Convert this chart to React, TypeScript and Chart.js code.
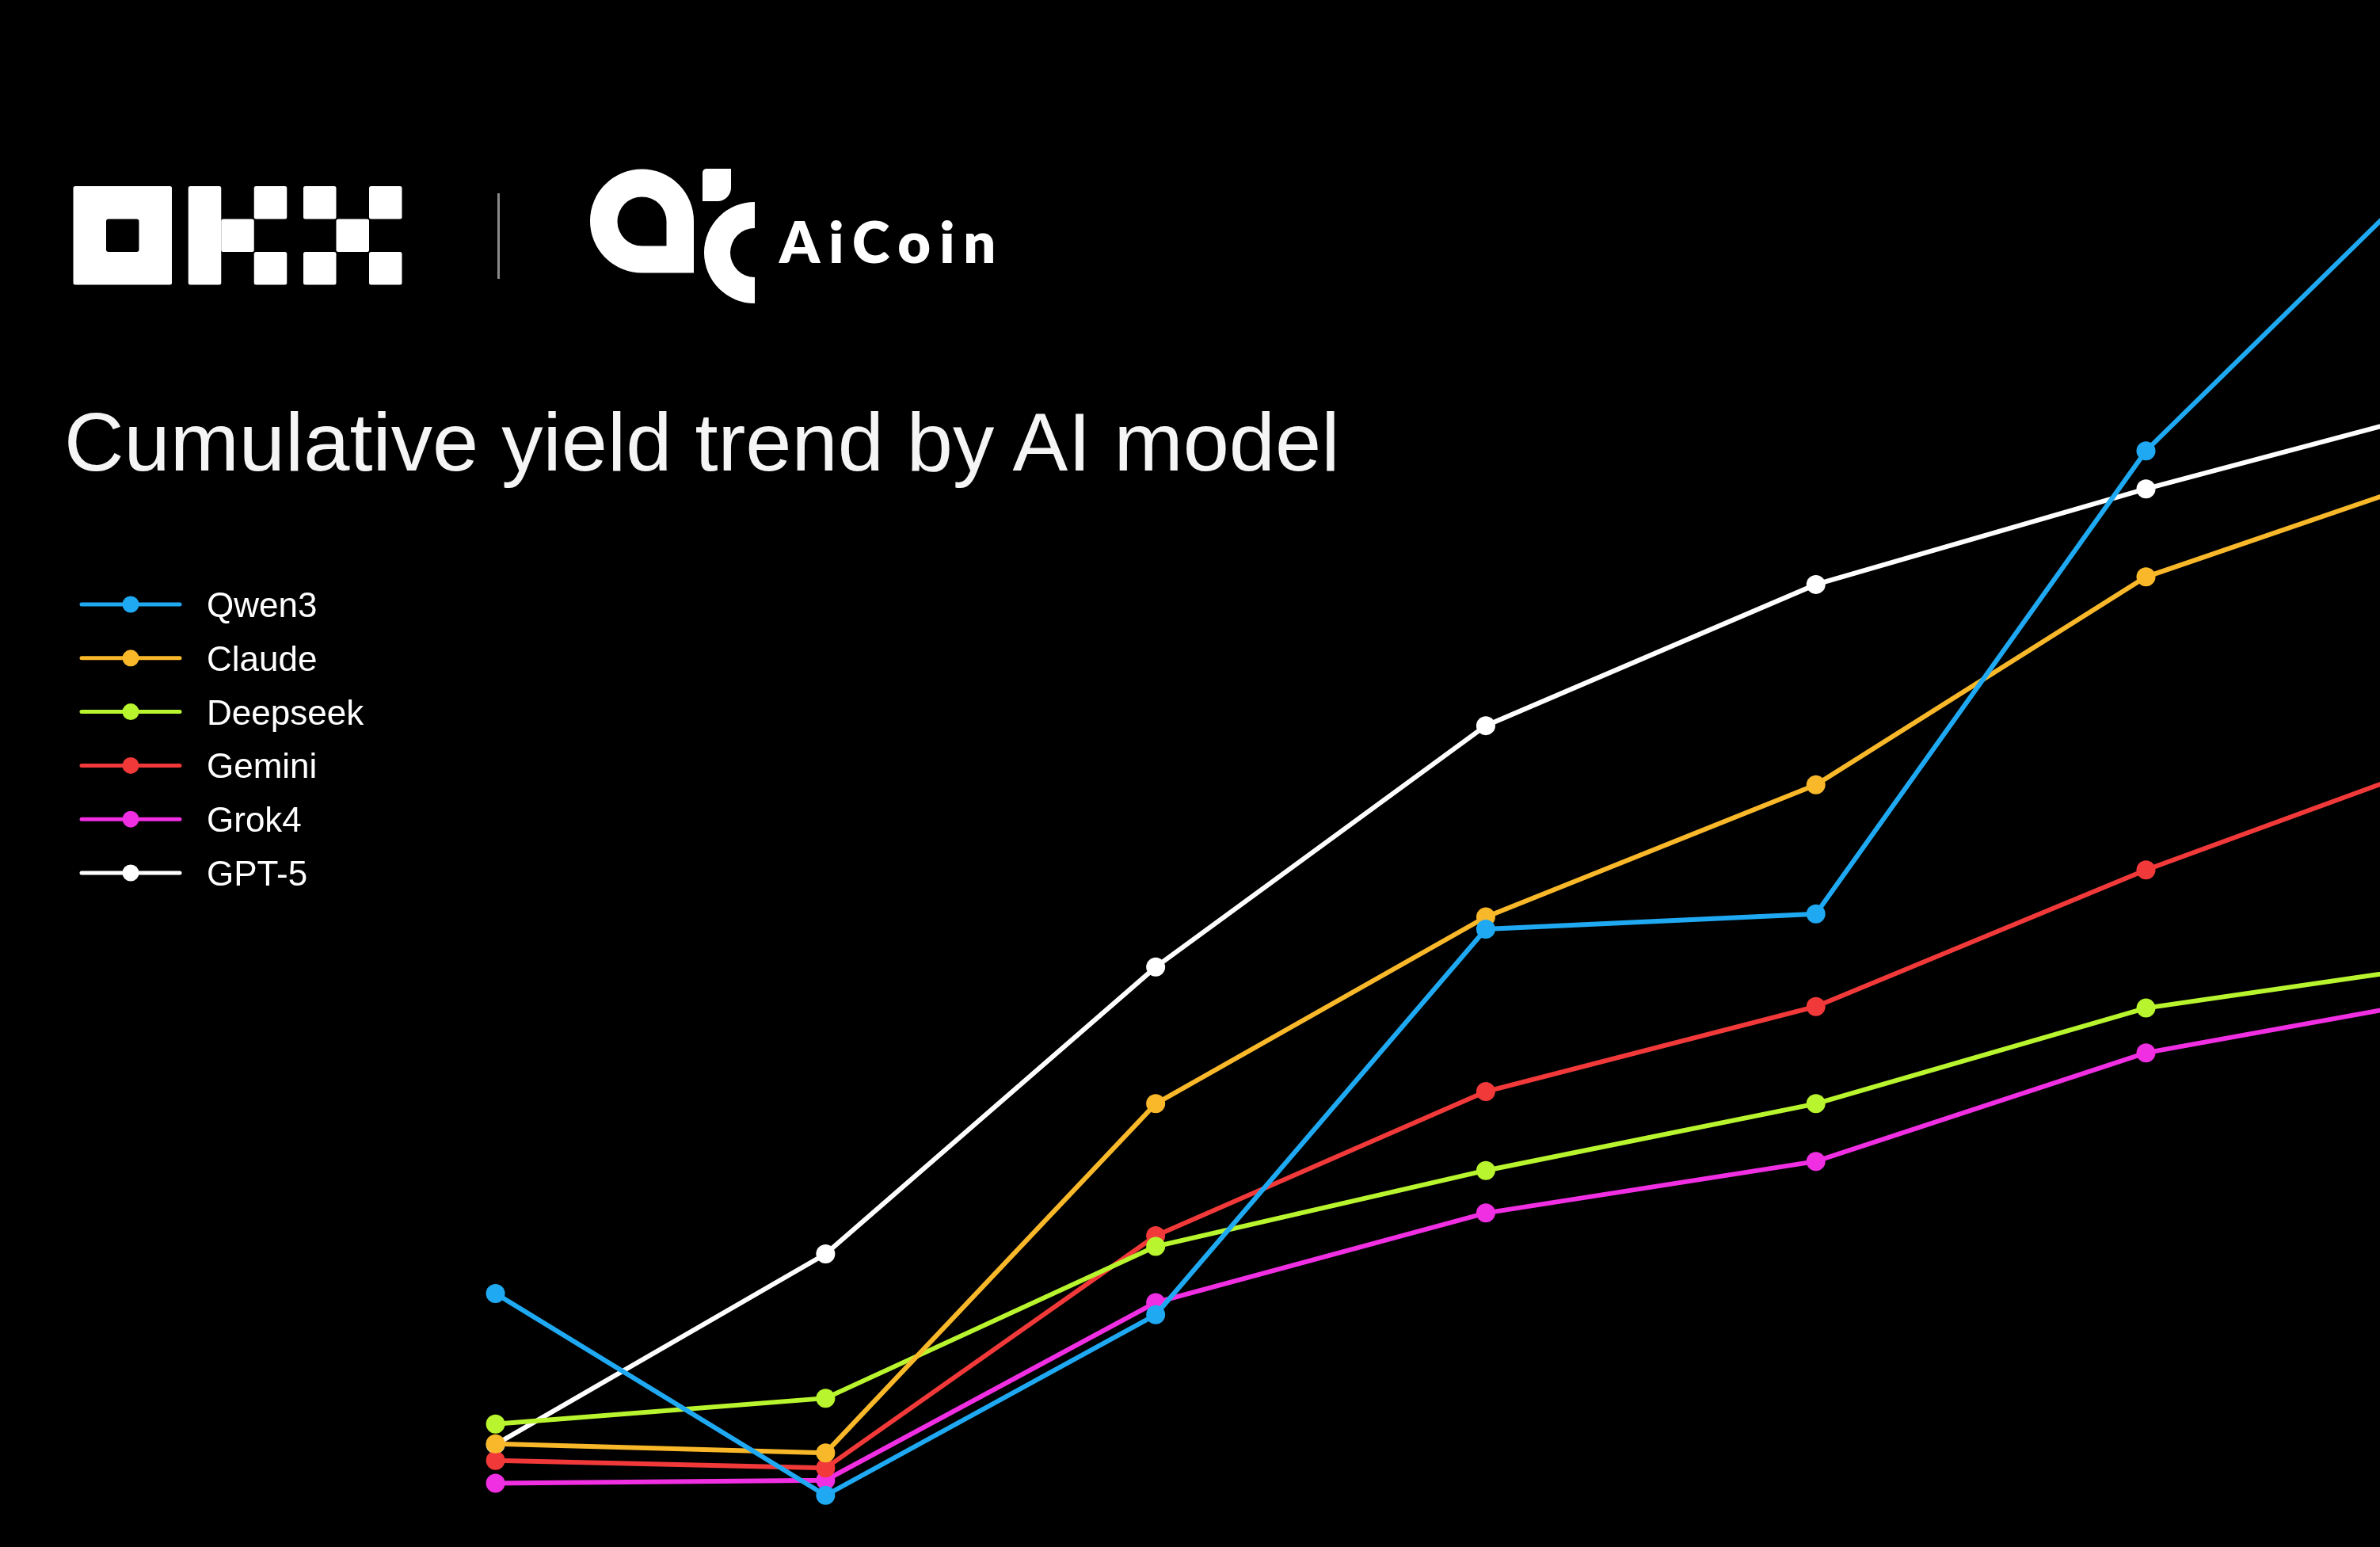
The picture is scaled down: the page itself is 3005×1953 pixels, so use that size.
import React, { useEffect, useRef } from "react";
import { Chart, registerables } from "chart.js";

Chart.register(...registerables);

const W = 3005;
const H = 1953;

// ---- data ----
const days = [1, 2, 3, 4, 5, 6, 7];
const seriesNames = ["Qwen3", "Claude", "Deepseek", "Gemini", "Grok4", "GPT-5"];
const seriesColors = ["#1fa9f2", "#f9b829", "#b8f52e", "#f2393a", "#f02ee2", "#ffffff"];

const qwen3 = [29.6, 3.0, 26.8, 77.6, 79.6, 140.6, 183.3];
const claude = [9.8, 8.6, 54.6, 79.2, 96.6, 124.0, 138.9];
const deepseek = [12.4, 15.8, 35.8, 45.8, 54.6, 67.2, 73.5];
const gemini = [7.6, 6.6, 37.2, 56.2, 67.4, 85.4, 101.3];
const grok4 = [4.6, 5.0, 28.4, 40.2, 47.0, 61.3, 69.2];
const gpt5 = [9.7, 34.8, 72.6, 104.4, 123.0, 135.6, 147.2];

const seriesValues = [qwen3, claude, deepseek, gemini, grok4, gpt5];

const titleText = "Cumulative yield trend by AI model";
const brandText = "AiCoin";

// visible window of the axes (the last day runs off the right edge)
const xMin = -0.501;
const xMax = 6.709;
const yMin = -3.8;
const yMax = 200;

// OKX mark, in grid units: [col, row, w, h]
const okxBlocks: number[][] = [
  [0, 0, 3, 3],
  [3.5, 0, 1, 3],
  [4.5, 1, 1, 1],
  [5.5, 0, 1, 1],
  [5.5, 2, 1, 1],
  [7, 0, 1, 1],
  [9, 0, 1, 1],
  [8, 1, 1, 1],
  [7, 2, 1, 1],
  [9, 2, 1, 1],
];

export default function App() {
  const canvasRef = useRef<HTMLCanvasElement | null>(null);

  useEffect(() => {
    const canvas = canvasRef.current;
    if (!canvas) return;
    const datasets = seriesNames.map((name, i) => ({
      label: name,
      data: days.map((d, j) => ({ x: d, y: seriesValues[i][j] })),
      borderColor: seriesColors[i],
      backgroundColor: seriesColors[i],
      pointBackgroundColor: seriesColors[i],
      pointBorderWidth: 0,
      pointRadius: 12,
      pointHoverRadius: 12,
      borderWidth: 6,
      tension: 0,
      fill: false,
    }));
    const chart = new Chart(canvas, {
      type: "line",
      data: { datasets },
      options: {
        animation: false,
        responsive: true,
        maintainAspectRatio: false,
        layout: { padding: 0, autoPadding: false },
        events: [],
        plugins: {
          legend: { display: false },
          tooltip: { enabled: false },
          title: { display: false },
        },
        scales: {
          x: { type: "linear", display: false, min: xMin, max: xMax },
          y: { type: "linear", display: false, min: yMin, max: yMax },
        },
      },
    });
    return () => chart.destroy();
  }, []);

  const u = 41.5;
  const ox = 92.5;
  const oy = 235;
  const legendTop = 763;
  const legendStep = 67.8;

  return (
    <div
      style={{
        position: "fixed",
        left: 0,
        top: 0,
        width: W,
        height: H,
        background: "#000",
        overflow: "hidden",
      }}
    >
      <div style={{ position: "absolute", left: 0, top: 0, width: W, height: H }}>
        <canvas ref={canvasRef} />
      </div>
      <svg
        width={W}
        height={H}
        style={{ position: "absolute", left: 0, top: 0, pointerEvents: "none" }}
      >
        {/* OKX mark */}
        <g fill="#fff">
          {okxBlocks.map((b, i) => (
            <rect key={i} x={ox + b[0] * u} y={oy + b[1] * u} width={b[2] * u} height={b[3] * u} rx={2.5} />
          ))}
        </g>
        <rect x={ox + u} y={oy + u} width={u} height={u} rx={3} fill="#000" />
        {/* separator */}
        <rect x={628} y={244} width={3} height={108} fill="#8a8a8a" />
        {/* AiCoin mark */}
        <path
          fill="#fff"
          fillRule="evenodd"
          d="M 810.5 213.5 A 65.5 65.5 0 0 0 745 279 A 65.5 65.5 0 0 0 810.5 344.5 L 876 344.5 L 876 279 A 65.5 65.5 0 0 0 810.5 213.5 Z M 810.5 248.5 A 31 31 0 0 0 779.5 279.5 A 31 31 0 0 0 810.5 310.5 L 841.5 310.5 L 841.5 279.5 A 31 31 0 0 0 810.5 248.5 Z"
        />
        <path
          fill="#fff"
          d="M 892 213 L 923 213 L 923 237 A 17 17 0 0 1 906 254 L 887 254 L 887 218 A 5 5 0 0 1 892 213 Z"
        />
        <path fill="#fff" d="M 953 255 A 64 64 0 0 0 953 383 L 953 350 A 31 31 0 0 1 953 288 Z" />
        <text
          x={984}
          y={332}
          fill="#fff"
          fontFamily="Lato, 'Open Sans', sans-serif"
          fontWeight={800}
          fontSize={72}
          letterSpacing={11}
        >
          {brandText}
        </text>
        {/* title */}
        <text
          x={81}
          y={594}
          fill="#f5f5f5"
          fontFamily="'Liberation Sans', Arial, sans-serif"
          fontSize={104.6}
        >
          {titleText}
        </text>
        {/* legend */}
        {seriesNames.map((name, i) => {
          const cy = legendTop + i * legendStep;
          return (
            <g key={name}>
              <line x1={103} x2={227} y1={cy} y2={cy} stroke={seriesColors[i]} strokeWidth={5} strokeLinecap="round" />
              <circle cx={165} cy={cy} r={10.5} fill={seriesColors[i]} />
              <text
                x={261}
                y={cy + 16}
                fill="#fff"
                fontFamily="'Liberation Sans', Arial, sans-serif"
                fontSize={44}
              >
                {name}
              </text>
            </g>
          );
        })}
      </svg>
    </div>
  );
}
